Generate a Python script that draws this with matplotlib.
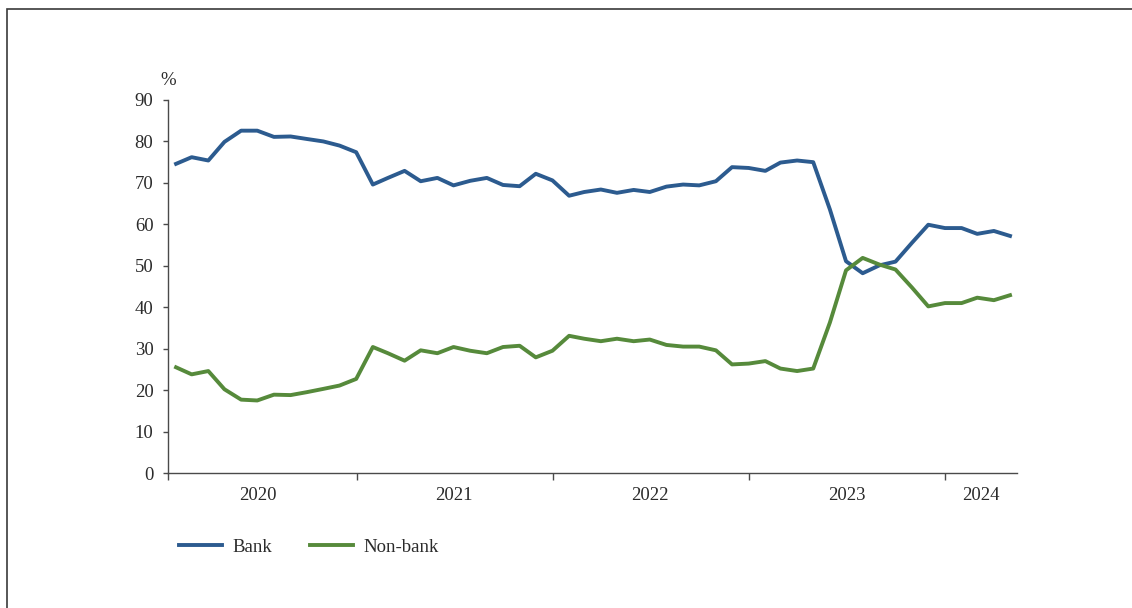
import numpy as np
import pandas as pd
import matplotlib
matplotlib.use('Agg')
import matplotlib.pyplot as plt
from matplotlib.patches import Rectangle

# monthly shares, Jan 2020 - Apr 2024 (%)
months = pd.date_range('2020-01-31', periods=52, freq='ME')
bank = [74.6, 76.2, 75.4, 79.9, 82.6, 82.6, 81.1, 81.2, 80.6, 80.0, 79.0, 77.4,
        69.6, 71.2, 72.9, 70.4, 71.2, 69.4, 70.5, 71.2, 69.5, 69.2, 72.2, 70.6,
        66.9, 67.8, 68.4, 67.6, 68.3, 67.8, 69.1, 69.6, 69.4, 70.4, 73.8, 73.6,
        72.9, 74.9, 75.4, 75.0, 63.6, 51.1, 48.2, 50.1, 51.0, 55.6, 59.9, 59.1,
        59.1, 57.7, 58.4, 57.2]
nonbank = [25.5, 23.8, 24.6, 20.2, 17.7, 17.5, 18.9, 18.8, 19.5, 20.3, 21.1, 22.7,
           30.4, 28.9, 27.1, 29.6, 28.9, 30.4, 29.5, 28.9, 30.4, 30.7, 27.9, 29.5,
           33.1, 32.4, 31.8, 32.4, 31.8, 32.2, 30.9, 30.5, 30.5, 29.6, 26.2, 26.4,
           27.0, 25.2, 24.6, 25.2, 36.3, 48.9, 51.9, 50.3, 49.1, 44.7, 40.2, 41.0,
           41.0, 42.3, 41.7, 42.9]
years = [2020, 2021, 2022, 2023, 2024]

BLUE = '#2C5B8F'
GREEN = '#568A3B'
AXC = '#4a4a4a'
TXT = '#2b2b2b'

plt.rcParams['font.family'] = ['Liberation Serif', 'DejaVu Serif']

fig = plt.figure(figsize=(11.32, 6.08), dpi=100)
fig.patches.append(Rectangle((7 / 1132, -0.1), 1.2, 1.1 - 9 / 608, transform=fig.transFigure,
                             fill=False, edgecolor='#3a3a3a', linewidth=1.2))
ax = fig.add_axes([168 / 1132, 1 - 473 / 608, (1017 - 168) / 1132, (473 - 100) / 608])

ax.plot(months, bank, color=BLUE, lw=2.8, label='Bank')
ax.plot(months, nonbank, color=GREEN, lw=2.8, label='Non-bank')

x_left = pd.Timestamp('2020-01-16')
x_right = pd.Timestamp('2024-05-13')
ax.set_xlim(x_left, x_right)
ax.set_ylim(0, 90)
ax.set_yticks(np.arange(0, 91, 10))

# year boundaries as major ticks, year labels as minor ticks
bounds = [x_left] + [pd.Timestamp(f'{y}-01-01') for y in years[1:]]
ax.set_xticks(bounds)
ax.set_xticklabels([])
label_pos = [pd.Timestamp(f'{y}-07-01') for y in years[:-1]]
label_pos.append(bounds[-1] + (x_right - bounds[-1]) / 2)
ax.set_xticks(label_pos, minor=True)
ax.set_xticklabels([str(y) for y in years], minor=True)

for s in ['top', 'right']:
    ax.spines[s].set_visible(False)
for s in ['left', 'bottom']:
    ax.spines[s].set_color(AXC)
    ax.spines[s].set_linewidth(1.0)

ax.tick_params(axis='y', direction='out', length=3.5, width=1.0, color=AXC,
               labelsize=13.5, labelcolor=TXT, pad=7)
ax.tick_params(axis='x', which='major', direction='out', length=5, width=1.0, color=AXC)
ax.tick_params(axis='x', which='minor', length=0, labelsize=13.5, labelcolor=TXT, pad=10)

ax.text(0, 1.03, '%', transform=ax.transAxes, ha='center', va='bottom',
        fontsize=13.5, color=TXT)

fig.legend(loc='center left', bbox_to_anchor=(162 / 1132, 1 - 547 / 608), ncol=2,
           frameon=False, fontsize=13.5, handlelength=2.3, handletextpad=0.55,
           columnspacing=2.0, labelcolor=TXT)

fig.savefig('out.png', dpi=100)
